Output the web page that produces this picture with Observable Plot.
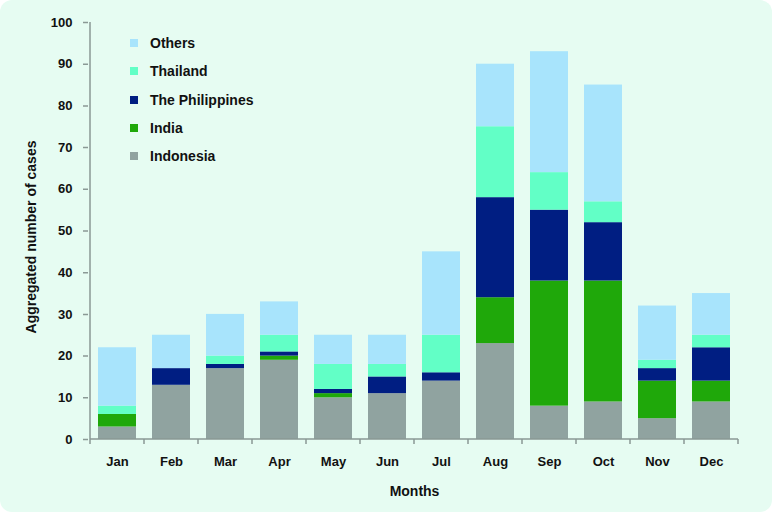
<!DOCTYPE html>
<html>
<head>
<meta charset="utf-8">
<script src="https://cdn.jsdelivr.net/npm/d3@7"></script>
<script src="https://cdn.jsdelivr.net/npm/@observablehq/plot@0.6"></script>
<style>
  html, body { margin: 0; padding: 0; background: #ffffff; }
  #wrap { position: relative; width: 772px; height: 512px; background: #e6fcf2; border-radius: 12px; overflow: hidden;
          font-family: "Liberation Sans", Arial, sans-serif; }
  #wrap svg { position: absolute; left: 0; top: 0; }
  #legend { position: absolute; left: 130px; top: 29px; font-weight: bold; font-size: 14px; color: #111; }
  #legend .row { height: 28.3px; display: flex; align-items: center; }
  #legend .sw { width: 8px; height: 8px; margin-right: 12px; }
  [aria-label="x-axis label"] text, [aria-label="y-axis label"] text { font-size: 14px; }
</style>
</head>
<body>
<div id="wrap"><div id="legend"></div></div>
<script>
const months = ["Jan","Feb","Mar","Apr","May","Jun","Jul","Aug","Sep","Oct","Nov","Dec"];
const seriesNames = ["Indonesia","India","The Philippines","Thailand","Others"];
const seriesColors = ["#90a3a0","#1fa80a","#001e82","#62ffc6","#a8e4fc"];
const indonesia   = [3,13,17,19,10,11,14,23,8,9,5,9];
const india       = [3,0,0,1,1,0,0,11,30,29,9,5];
const philippines = [0,4,1,1,1,4,2,24,17,14,3,8];
const thailand    = [2,0,2,4,6,3,9,17,9,5,2,3];
const others      = [14,8,10,8,7,7,20,15,29,28,13,10];
const yTicks = [0,10,20,30,40,50,60,70,80,90,100];

const seriesValues = [indonesia, india, philippines, thailand, others];
const data = [];
seriesNames.forEach((s, i) => months.forEach((m, j) => data.push({month: m, series: s, value: seriesValues[i][j]})));

const axisColor = "#8a9995";

// custom mark: y axis line and x-axis boundary ticks, derived from scales
function axisLines(index, scales, values, dimensions) {
  const ns = "http://www.w3.org/2000/svg";
  const g = document.createElementNS(ns, "g");
  const x = scales.x, y = scales.y;
  const bw = x.bandwidth ? x.bandwidth() : 0;
  const step = x(months[1]) - x(months[0]);
  const gap = (step - bw) / 2;
  const y0 = y(0), y1 = y(100);
  const line = (x1, y1_, x2, y2) => {
    const l = document.createElementNS(ns, "line");
    l.setAttribute("x1", x1); l.setAttribute("y1", y1_);
    l.setAttribute("x2", x2); l.setAttribute("y2", y2);
    l.setAttribute("stroke", axisColor); l.setAttribute("stroke-width", 1.5);
    g.appendChild(l);
  };
  const left = x(months[0]) - gap;
  const right = x(months[months.length - 1]) + bw + gap;
  line(left, y0, left, y1);
  line(left, y0, right, y0);
  months.forEach(m => { const bx = x(m) - gap; line(bx, y0, bx, y0 + 5); });
  line(right, y0, right, y0 + 5);
  return g;
}

const chart = Plot.plot({
  width: 772,
  height: 512,
  marginLeft: 88,
  marginRight: 32,
  marginTop: 22,
  marginBottom: 73,
  style: { fontFamily: "Liberation Sans, Arial, sans-serif", fontSize: "13px", fontWeight: "bold", color: "#111", background: "transparent" },
  x: { domain: months, paddingInner: 0.3, paddingOuter: 0.15 },
  y: { domain: [0, 100] },
  color: { domain: seriesNames, range: seriesColors },
  marks: [
    Plot.barY(data, Plot.stackY({order: seriesNames}, {x: "month", y: "value", fill: "series"})),
    axisLines,
    Plot.axisY({ticks: yTicks, tickSize: 5, tickPadding: 11, stroke: axisColor, strokeWidth: 1.5,
                label: "Aggregated number of cases", labelAnchor: "center", labelOffset: 62, labelArrow: "none"}),
    Plot.axisX({tickSize: 0, tickPadding: 17, label: "Months", labelAnchor: "center", labelOffset: 56, labelArrow: "none"})
  ]
});
const wrap = document.getElementById("wrap");
wrap.insertBefore(chart, wrap.firstChild);
chart.querySelectorAll('[aria-label="y-axis label"] text').forEach(t => t.setAttribute("dx", "-6"));

const legend = document.getElementById("legend");
[...seriesNames].reverse().forEach(name => {
  const row = document.createElement("div");
  row.className = "row";
  const sw = document.createElement("span");
  sw.className = "sw";
  sw.style.background = seriesColors[seriesNames.indexOf(name)];
  const t = document.createElement("span");
  t.textContent = name;
  row.appendChild(sw); row.appendChild(t);
  legend.appendChild(row);
});
</script>
</body>
</html>
